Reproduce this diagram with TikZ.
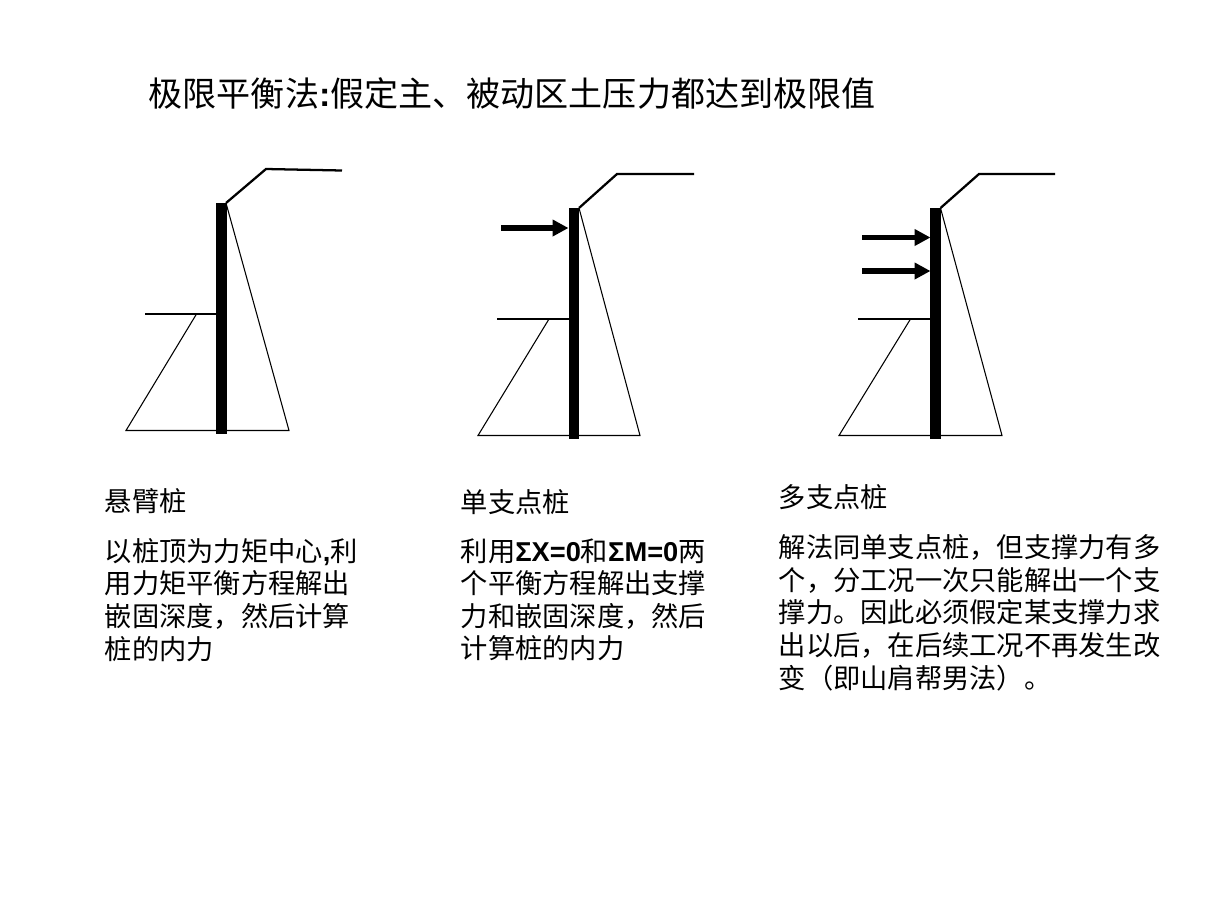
\documentclass[tikz,border=0pt]{standalone}
\usepackage{fontspec}
\setmainfont{Noto Sans CJK SC}
\newfontfamily\LatinFnt{Liberation Sans}[Scale=1]
\usepackage{tkz-euclide}
\usetikzlibrary{arrows.meta,calc}
\newcommand{\Lat}[1]{{\LatinFnt\bfseries #1}}
\tikzset{
  TitleTxt/.style={anchor=base west,inner sep=0pt,font=\fontsize{25.55}{30}\selectfont},
  BodyTxt/.style={anchor=base west,inner sep=0pt,align=left,font=\fontsize{20.45}{24.45}\selectfont},
  Support/.style={line width=3.9pt,-{Triangle[length=12pt,width=12pt]}},
  PileLine/.style={line width=7.9pt,line cap=butt},
  GroundLine/.style={line width=1.7pt,line cap=butt},
  EarthLine/.style={line width=0.8pt,line cap=butt}
}

\begin{document}
\begin{tikzpicture}[x=.75pt,y=-.75pt]
\useasboundingbox (0,0) rectangle (1224,918);

\node[TitleTxt] (Title) at (148.5,106.5) {极限平衡法\Lat{:}假定主、被动区土压力都达到极限值};

% first pile
\tkzDefPoint(221.3,203){PileTopA}
\tkzDefPoint(221.3,434){PileEndA}
\tkzDefPoint(226,203){CrestA}
\tkzDefPoint(266,169){BermA}
\tkzDefPoint(342,170.5){BackA}
\tkzDefPoint(145,314){PitA}
\tkzDefPoint(216,314){ToeA}
\tkzDefPoint(196.5,314){PassTopA}
\tkzDefPoint(126,430.5){PassEndA}
\tkzDefPoint(289,430.5){ActEndA}

\tkzDrawPolySeg[EarthLine](PassTopA,PassEndA,ActEndA,CrestA)
\tkzDrawPolySeg[GroundLine](CrestA,BermA,BackA)
\tkzDrawSegments[GroundLine](PitA,ToeA)
\tkzDrawSegments[PileLine](PileTopA,PileEndA)

% second pile
\tkzDefPoint(573.8,208){PileTopB}
\tkzDefPoint(573.8,439){PileEndB}
\tkzDefPoint(579,208){CrestB}
\tkzDefPoint(617,174){BermB}
\tkzDefPoint(694,174){BackB}
\tkzDefPoint(497,319){PitB}
\tkzDefPoint(568.5,319){ToeB}
\tkzDefPoint(549,319){PassTopB}
\tkzDefPoint(478,435.5){PassEndB}
\tkzDefPoint(640,435.5){ActEndB}
\tkzDefPoint(501,228){PropTailB}
\tkzDefPoint(568.5,228){PropHeadB}

\tkzDrawPolySeg[EarthLine](PassTopB,PassEndB,ActEndB,CrestB)
\tkzDrawPolySeg[GroundLine](CrestB,BermB,BackB)
\tkzDrawSegments[GroundLine](PitB,ToeB)
\tkzDrawSegments[PileLine](PileTopB,PileEndB)
\draw[Support] (PropTailB) -- (PropHeadB);

% third pile
\tkzDefPoint(935.5,208){PileTopC}
\tkzDefPoint(935.5,439){PileEndC}
\tkzDefPoint(940.5,208){CrestC}
\tkzDefPoint(979,174){BermC}
\tkzDefPoint(1055,174){BackC}
\tkzDefPoint(858,319){PitC}
\tkzDefPoint(930.5,319){ToeC}
\tkzDefPoint(910.5,319){PassTopC}
\tkzDefPoint(839,435.5){PassEndC}
\tkzDefPoint(1002,435.5){ActEndC}
\tkzDefPoint(862,237.5){PropTailC}
\tkzDefPoint(930.5,237.5){PropHeadC}
\tkzDefPoint(862,271){PropTailD}
\tkzDefPoint(930.5,271){PropHeadD}

\tkzDrawPolySeg[EarthLine](PassTopC,PassEndC,ActEndC,CrestC)
\tkzDrawPolySeg[GroundLine](CrestC,BermC,BackC)
\tkzDrawSegments[GroundLine](PitC,ToeC)
\tkzDrawSegments[PileLine](PileTopC,PileEndC)
\draw[Support] (PropTailC) -- (PropHeadC);
\draw[Support] (PropTailD) -- (PropHeadD);

% captions
\node[BodyTxt] (NameA) at (104.5,511) {悬臂桩};
\node[BodyTxt] (NameB) at (460.5,512) {单支点桩};
\node[BodyTxt] (NameC) at (778.5,507) {多支点桩};

\node[BodyTxt,anchor=north west] (TextA) at (104.5,538) {以桩顶为力矩中心\Lat{,}利\\用力矩平衡方程解出\\嵌固深度，然后计算\\桩的内力};
\node[BodyTxt,anchor=north west] (TextB) at (460.5,538) {利用\Lat{ΣX=0}和\Lat{ΣM=0}两\\个平衡方程解出支撑\\力和嵌固深度，然后\\计算桩的内力};
\node[BodyTxt,anchor=north west] (TextC) at (778.5,534.5) {解法同单支点桩，但支撑力有多\\个，分工况一次只能解出一个支\\撑力。因此必须假定某支撑力求\\出以后，在后续工况不再发生改\\变（即山肩帮男法）。};

\end{tikzpicture}
\end{document}
